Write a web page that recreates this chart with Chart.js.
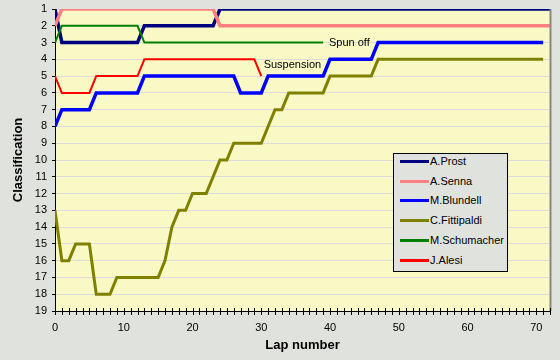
<!DOCTYPE html>
<html>
<head>
<meta charset="utf-8">
<script src="https://cdn.jsdelivr.net/npm/chart.js@4/dist/chart.umd.min.js"></script>
<style>
  html, body { margin: 0; padding: 0; background: #e0e2de; }
  #wrap { position: relative; width: 560px; height: 360px; }
  #legend { position: absolute; left: 393px; top: 153px; width: 115px; height: 119px; box-sizing: border-box;
            border: 1px solid #000; background: #e0e2de; font: 11px "Liberation Sans", Arial, sans-serif; color: #000; }
  .row { position: absolute; left: 0; height: 14px; }
  .swatch { position: absolute; left: 6px; width: 29px; }
  .lbl { position: absolute; left: 36px; top: 0; white-space: nowrap; line-height: 14px; }
</style>
</head>
<body>
<div id="wrap">
  <canvas id="c" width="560" height="360"></canvas>
  <div id="legend"></div>
</div>
<script>
// ---- data (position per lap, index = lap number, 0 = grid) ----
const drivers = ["A.Prost", "A.Senna", "M.Blundell", "C.Fittipaldi", "M.Schumacher", "J.Alesi"];
const colors  = ["#000080", "#ff8080", "#0000ff", "#808000", "#008000", "#ff0000"];
const widths  = [3.5, 3.5, 3.5, 3, 2, 2];

const prost = [1,3,3,3,3,3,3,3,3,3,3,3,3,2,2,2,2,2,2,2,2,2,2,2,1,1,1,1,1,1,1,1,1,1,1,1,1,1,1,1,1,1,1,1,1,1,1,1,1,1,1,1,1,1,1,1,1,1,1,1,1,1,1,1,1,1,1,1,1,1,1,1,1];
const senna = [2,1,1,1,1,1,1,1,1,1,1,1,1,1,1,1,1,1,1,1,1,1,1,1,2,2,2,2,2,2,2,2,2,2,2,2,2,2,2,2,2,2,2,2,2,2,2,2,2,2,2,2,2,2,2,2,2,2,2,2,2,2,2,2,2,2,2,2,2,2,2,2,2];
const blundell = [8,7,7,7,7,7,6,6,6,6,6,6,6,5,5,5,5,5,5,5,5,5,5,5,5,5,5,6,6,6,6,5,5,5,5,5,5,5,5,5,4,4,4,4,4,4,4,3,3,3,3,3,3,3,3,3,3,3,3,3,3,3,3,3,3,3,3,3,3,3,3,3];
const fittipaldi = [13,16,16,15,15,15,18,18,18,17,17,17,17,17,17,17,16,14,13,13,12,12,12,11,10,10,9,9,9,9,9,8,7,7,6,6,6,6,6,6,5,5,5,5,5,5,5,4,4,4,4,4,4,4,4,4,4,4,4,4,4,4,4,4,4,4,4,4,4,4,4,4];
const schumacher = [3,2,2,2,2,2,2,2,2,2,2,2,2,3,3,3,3,3,3,3,3,3,3,3,3,3,3,3,3,3,3,3,3,3,3,3,3,3,3,3];
const alesi = [5,6,6,6,6,6,5,5,5,5,5,5,5,4,4,4,4,4,4,4,4,4,4,4,4,4,4,4,4,4,5];
const series = [prost, senna, blundell, fittipaldi, schumacher, alesi];

const xTickLabels = [0,10,20,30,40,50,60,70];
const notes = [ { text: "Spun off", lap: 39.85, pos: 3.0 }, { text: "Suspension", lap: 30.35, pos: 4.33 } ];

const FONT = '"Liberation Sans", Arial, sans-serif';

const datasets = series.map((arr, i) => ({
  label: drivers[i],
  data: arr.map((v, lap) => ({ x: lap, y: v })),
  borderColor: colors[i],
  backgroundColor: colors[i],
  borderWidth: widths[i],
  pointRadius: 0,
  tension: 0,
  fill: false,
  order: series.length - i
}));

const deco = {
  id: 'deco',
  beforeDraw(chart) {
    const { ctx, chartArea: a } = chart;
    ctx.save();
    ctx.fillStyle = '#f8f9c4';
    ctx.fillRect(a.left, a.top, a.right - a.left, a.bottom - a.top);
    ctx.restore();
  },
  afterDraw(chart) {
    const { ctx, chartArea: a, scales } = chart;
    const xs = scales.x, ys = scales.y;
    ctx.save();
    // right border
    ctx.strokeStyle = '#888';
    ctx.lineWidth = 2;
    ctx.beginPath(); ctx.moveTo(a.right + 0.5, a.top); ctx.lineTo(a.right + 0.5, a.bottom); ctx.stroke();
    // minor ticks crossing x axis
    ctx.strokeStyle = '#000';
    ctx.lineWidth = 1;
    for (let lap = 0; lap <= 72; lap++) {
      const px = Math.round(xs.getPixelForValue(lap)) + 0.5;
      ctx.beginPath(); ctx.moveTo(px, a.bottom - 3); ctx.lineTo(px, a.bottom + 4); ctx.stroke();
    }
    // notes
    ctx.fillStyle = '#000';
    ctx.font = '11px ' + FONT;
    ctx.textBaseline = 'middle';
    ctx.textAlign = 'left';
    notes.forEach(n => ctx.fillText(n.text, xs.getPixelForValue(n.lap), ys.getPixelForValue(n.pos)));
    // axis titles
    ctx.font = 'bold 13px ' + FONT;
    ctx.textAlign = 'center';
    ctx.fillText('Lap number', (a.left + a.right) / 2, 345);
    ctx.translate(18, (a.top + a.bottom) / 2);
    ctx.rotate(-Math.PI / 2);
    ctx.fillText('Classification', 0, 0);
    ctx.restore();
  }
};

new Chart(document.getElementById('c'), {
  type: 'line',
  data: { datasets },
  options: {
    responsive: false,
    animation: false,
    events: [],
    layout: { padding: { left: 0, right: 10, top: 9, bottom: 0 } },
    plugins: { legend: { display: false }, tooltip: { enabled: false } },
    scales: {
      x: {
        type: 'linear', min: 0, max: 72,
        ticks: { stepSize: 1, autoSkip: false, maxRotation: 0, color: '#000', padding: 10,
                 font: { family: FONT, size: 11 },
                 callback: v => xTickLabels.includes(v) ? String(v) : '' },
        grid: { drawOnChartArea: false, drawTicks: false },
        border: { color: '#000', width: 1 },
        afterFit: s => { s.height = 49; s.paddingLeft = 0; s.paddingRight = 0; }
      },
      y: {
        reverse: true, min: 1, max: 19,
        ticks: { stepSize: 1, autoSkip: false, color: '#000', padding: 5,
                 font: { family: FONT, size: 11 } },
        grid: { color: '#dcdcdc', drawTicks: true, tickLength: 3, tickColor: '#000' },
        border: { color: '#000', width: 1 },
        afterFit: s => { s.width = 55; s.paddingTop = 0; s.paddingBottom = 0; }
      }
    }
  },
  plugins: [deco]
});

// legend (HTML)
const rowCenters = [7.7, 27.5, 47.3, 67.1, 86.9, 106.7];
const leg = document.getElementById('legend');
drivers.forEach((d, i) => {
  const row = document.createElement('div');
  row.className = 'row';
  row.style.top = (rowCenters[i] - 1 - 7) + 'px';
  const sw = document.createElement('div');
  sw.className = 'swatch';
  sw.style.height = '3px';
  sw.style.top = '6px';
  sw.style.background = colors[i];
  const lb = document.createElement('div');
  lb.className = 'lbl';
  lb.textContent = d;
  row.appendChild(sw); row.appendChild(lb);
  leg.appendChild(row);
});
</script>
</body>
</html>
